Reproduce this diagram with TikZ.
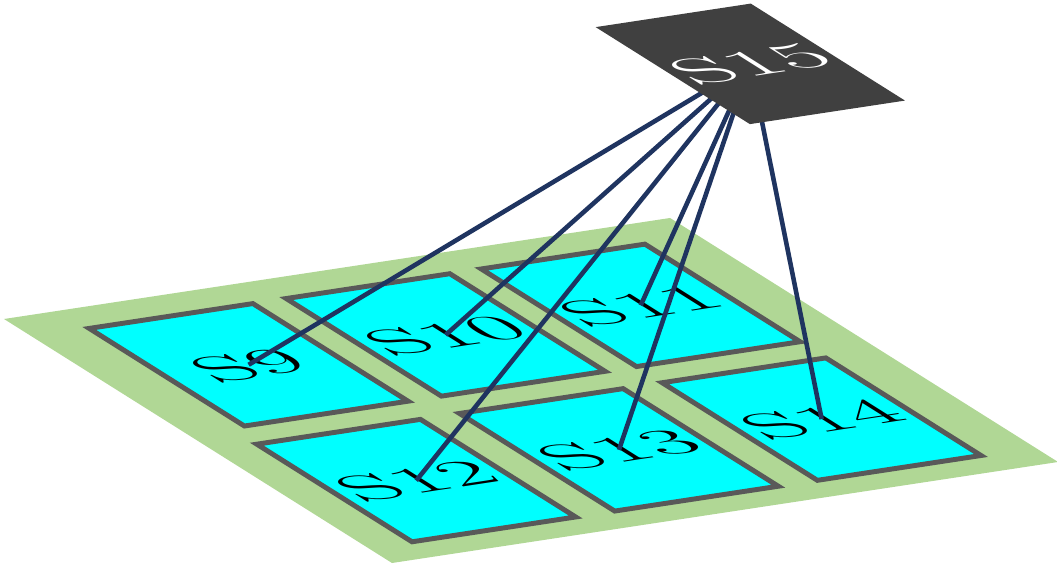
\documentclass[tikz,border=0pt]{standalone}
\definecolor{padgreen}{RGB}{176,215,149}
\definecolor{padcyan}{RGB}{0,255,255}
\definecolor{cellgray}{RGB}{89,89,89}
\definecolor{hubgray}{RGB}{64,64,64}
\definecolor{linkblue}{RGB}{31,52,96}
\pgfdeclarelayer{top}
\pgfsetlayers{main,top}

\begin{document}
\begin{tikzpicture}[
  cell/.style={draw=cellgray,line width=2.8pt,fill=padcyan,minimum width=1.72cm,minimum height=3.2cm,inner sep=0pt,font=\fontsize{30}{32}\selectfont},
  hub/.style={fill=hubgray,text=white,minimum width=1.63cm,minimum height=3.18cm,inner sep=0pt,font=\fontsize{30}{32}\selectfont},
  link/.style={draw=linkblue,line width=2.6pt}]

\useasboundingbox (0,0) rectangle (21.14,11.4);

% tilted board, everything below lives in its plane
\begin{scope}[cm={1.903,0.2886,-0.97,0.61,(7.84,0.14)},transform shape]
\fill[padgreen] (0,0) rectangle (7,8);

\node[cell] (s9)  at (1.455,5.81) {S9};
\node[cell] (s10) at (3.525,5.81) {S10};
\node[cell] (s11) at (5.575,5.81) {S11};
\node[cell] (s12) at (1.315,2.08) {S12};
\node[cell] (s13) at (3.445,2.08) {S13};
\node[cell] (s14) at (5.575,2.08) {S14};

\begin{pgfonlayer}{top}
\node[hub] (s15) at (9.755,11.75) {S15};
\end{pgfonlayer}

\path[link] (s15.center) edge (s9.center)
                         edge (s10.center)
                         edge (s11.center)
                         edge (s12.center)
                         edge (s13.center)
                         edge (s14.center);
\end{scope}

\end{tikzpicture}
\end{document}
